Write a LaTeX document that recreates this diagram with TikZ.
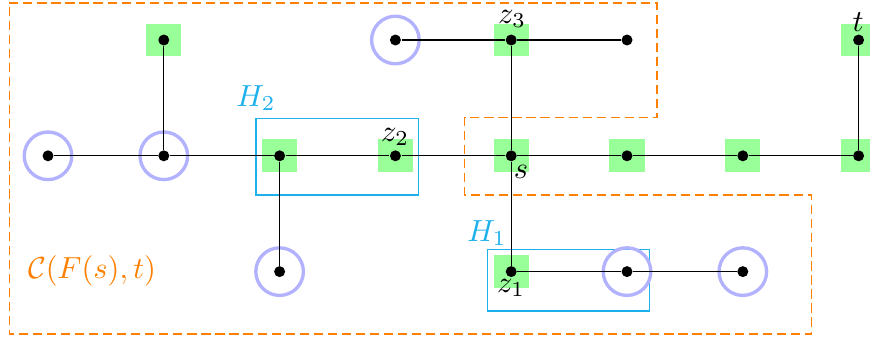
\documentclass[tikz,border=0pt]{standalone}
\definecolor{hblue}{RGB}{28,176,236}
\definecolor{regorange}{RGB}{255,128,0}
\tikzset{
  vdot/.style={circle, fill=black, inner sep=0pt, minimum size=3.6pt},
  gsq/.style={rectangle, fill=green!40, inner sep=0pt, minimum width=11.5pt, minimum height=10.8pt},
  ring/.style={circle, draw=blue!30, line width=1.1pt, inner sep=0pt, minimum size=15.6pt},
  edge/.style={draw=black, line width=0.45pt},
  region/.style={draw=regorange, line width=0.5pt, dash pattern=on 3pt off 1.6pt},
  hbox/.style={draw=hblue, line width=0.4pt},
  lab/.style={inner sep=0pt, anchor=center}
}
\begin{document}
\begin{tikzpicture}[x=0.3279pt, y=-0.3279pt]
\useasboundingbox (0,0) rectangle (870,340);
% region
\draw[region] (9.3,3) -- (657,3) -- (657,117.7) -- (464.7,117.7) -- (464.7,195)
  -- (811.3,195) -- (811.3,334) -- (9.3,334) -- cycle;
% H boxes
\draw[hbox] (256,118.3) rectangle (418.3,195);
\draw[hbox] (487.7,249.7) rectangle (649.3,311);
\node[lab, text=hblue] (h2) at (256,98) {$H_2$};
\node[lab, text=hblue] (h1) at (487,233) {$H_1$};
\node[lab, text=regorange] (cf) at (92,271) {$\mathcal{C}(F(s),t)$};
% green squares
\node[gsq] (sa1) at (163.8,40) {};
\node[gsq] (sa4) at (511.2,40) {};
\node[gsq] (sa7) at (858.6,40) {};
\node[gsq] (sb2) at (279.6,155.8) {};
\node[gsq] (sb3) at (395.4,155.8) {};
\node[gsq] (sb4) at (511.2,155.8) {};
\node[gsq] (sb5) at (627,155.8) {};
\node[gsq] (sb6) at (742.8,155.8) {};
\node[gsq] (sb7) at (858.6,155.8) {};
\node[gsq] (sc4) at (511.2,271.6) {};
% rings
\node[ring] (ra3) at (395.4,40) {};
\node[ring] (rb0) at (48,155.8) {};
\node[ring] (rb1) at (163.8,155.8) {};
\node[ring] (rc2) at (279.6,271.6) {};
\node[ring] (rc5) at (627,271.6) {};
\node[ring] (rc6) at (742.8,271.6) {};
% vertices
\node[vdot] (a1) at (163.8,40) {};
\node[vdot] (a3) at (395.4,40) {};
\node[vdot] (a4) at (511.2,40) {};
\node[vdot] (a5) at (627,40) {};
\node[vdot] (a7) at (858.6,40) {};
\node[vdot] (b0) at (48,155.8) {};
\node[vdot] (b1) at (163.8,155.8) {};
\node[vdot] (b2) at (279.6,155.8) {};
\node[vdot] (b3) at (395.4,155.8) {};
\node[vdot] (b4) at (511.2,155.8) {};
\node[vdot] (b5) at (627,155.8) {};
\node[vdot] (b6) at (742.8,155.8) {};
\node[vdot] (b7) at (858.6,155.8) {};
\node[vdot] (c2) at (279.6,271.6) {};
\node[vdot] (c4) at (511.2,271.6) {};
\node[vdot] (c5) at (627,271.6) {};
\node[vdot] (c6) at (742.8,271.6) {};
% edges
\draw[edge] (b0) -- (b1) -- (b2) -- (b3) -- (b4) -- (b5) -- (b6) -- (b7);
\draw[edge] (a1) -- (b1);
\draw[edge] (a3) -- (a4) -- (a5);
\draw[edge] (a4) -- (b4) -- (c4);
\draw[edge] (b2) -- (c2);
\draw[edge] (a7) -- (b7);
\draw[edge] (c4) -- (c5) -- (c6);
% labels
\node[lab] (lz3) at (512,19) {$z_3$};
\node[lab] (lt) at (858,22) {$t$};
\node[lab] (lz2) at (395,137) {$z_2$};
\node[lab] (ls) at (521,172) {$s$};
\node[lab] (lz1) at (511,288) {$z_1$};
\end{tikzpicture}
\end{document}
